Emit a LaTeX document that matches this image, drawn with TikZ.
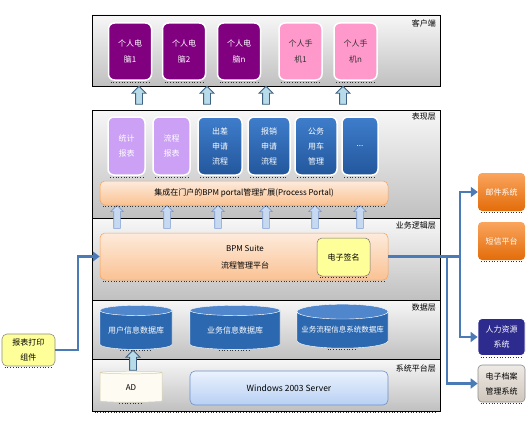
\documentclass[tikz,border=0pt]{standalone}
\usepackage{fontspec}
\setmainfont{Noto Sans CJK SC}
\usetikzlibrary{shapes.geometric,shapes.arrows,arrows.meta}
\definecolor{layT}{HTML}{F7F7F7}
\definecolor{layB}{HTML}{C0C0C0}
\definecolor{purp}{HTML}{800080}
\definecolor{pinkc}{HTML}{FF99CC}
\definecolor{lav}{HTML}{CBA0F5}
\definecolor{blueT}{HTML}{3F7DCB}
\definecolor{blueB}{HTML}{22579C}
\definecolor{orgT}{HTML}{FDEBDC}
\definecolor{orgB}{HTML}{FAC293}
\definecolor{orgD}{HTML}{F5A15A}
\definecolor{yel}{HTML}{FFFF99}
\definecolor{cylE}{HTML}{4F86CC}
\definecolor{cylBd}{HTML}{2C68B0}
\definecolor{adF}{HTML}{FDFBF2}
\definecolor{adD}{HTML}{D6CFAE}
\definecolor{winT}{HTML}{EAF2FD}
\definecolor{winB}{HTML}{B8D0F3}
\definecolor{winD}{HTML}{6F8FC8}
\definecolor{exT}{HTML}{FAA55E}
\definecolor{exB}{HTML}{E36C09}
\definecolor{hrc}{HTML}{2E2B8F}
\definecolor{arT}{HTML}{EEEAE5}
\definecolor{arB}{HTML}{CFC6BC}
\definecolor{conn}{HTML}{4A7BB7}
\definecolor{upF}{HTML}{B8DBE9}
\definecolor{upD}{HTML}{3D6182}
\definecolor{up2F}{HTML}{C6D9F1}
\definecolor{up2D}{HTML}{7B9BD1}
\begin{document}
\begin{tikzpicture}[x=1pt,y=-1pt,
  layer/.style={draw=black, line width=0.7pt, top color=layT, bottom color=layB, minimum width=348, inner sep=0},
  laylabel/.style={font=\fontsize{8}{9}\selectfont, anchor=north east, inner sep=0},
  pcbox/.style={draw=white, line width=1.5pt, rounded corners=6pt, minimum height=57, minimum width=43, align=center, inner sep=0, font=\fontsize{8}{16}\selectfont},
  pbox/.style={draw=white, line width=1.5pt, rounded corners=6pt, minimum height=58, align=center, inner sep=0, font=\fontsize{8}{15}\selectfont, text=white},
  orgbar/.style={draw=orgD, line width=0.5pt, rounded corners=5pt, top color=orgT, bottom color=orgB, inner sep=0},
  upA/.style={single arrow, shape border rotate=90, draw=upD, fill=upF, line width=0.9pt, minimum height=18, inner sep=3pt, single arrow head extend=3.5pt},
  upB/.style={single arrow, shape border rotate=90, draw=up2D, fill=up2F, line width=0.6pt, minimum height=23, inner sep=3pt, single arrow head extend=3pt},
  dbcyl/.style={cylinder, shape border rotate=90, aspect=0.18, draw=white, line width=0.4pt, cylinder uses custom fill, cylinder body fill=cylBd, cylinder end fill=cylE, text=white, inner sep=0, font=\fontsize{8}{9}\selectfont},
  extbox/.style={rounded corners=4pt, minimum width=47, align=center, inner sep=0, font=\fontsize{8}{15}\selectfont},
  cline/.style={draw=conn, line width=2.6pt},
  ctip/.style={-{Triangle[length=7pt,width=10pt]}},
  shd/.style={dotted, line width=0.7pt, black!80}
]
\useasboundingbox (0,0) rectangle (527,420);

% layers
\node[layer, minimum height=71] (L1) at (266,50.5) {};
\node[layer, minimum height=108] (L2) at (266,164) {};
\node[layer, minimum height=82] (L3) at (266,259) {};
\node[layer, minimum height=59] (L4) at (266,329.5) {};
\node[layer, minimum height=52] (L5) at (266,385) {};
\node[laylabel] (t1) at (436,20) {客户端};
\node[laylabel] (t2) at (436,113) {表现层};
\node[laylabel] (t3) at (436,222) {业务逻辑层};
\node[laylabel] (t4) at (436,304) {数据层};
\node[laylabel] (t5) at (436,365) {系统平台层};

% client nodes
\node[pcbox, fill=purp, text=white] (c1) at (130,51.5) {个人电\\脑1};
\node[pcbox, fill=purp, text=white] (c2) at (184,51.5) {个人电\\脑2};
\node[pcbox, fill=purp, text=white] (c3) at (239,51.5) {个人电\\脑n};
\node[pcbox, fill=pinkc, text=black!80] (c4) at (300.5,51.5) {个人手\\机1};
\node[pcbox, fill=pinkc, text=black!80] (c5) at (355.5,51.5) {个人手\\机n};

% arrows client <- presentation
\node[upA] (a1) at (139,97) {};
\node[upA] (a2) at (207,97) {};
\node[upA] (a3) at (266,97) {};
\node[upA] (a4) at (343,97) {};

% presentation nodes
\node[pbox, fill=lav, minimum width=37] (p1) at (126.5,146) {统计\\报表};
\node[pbox, fill=lav, minimum width=37] (p2) at (171.5,146) {流程\\报表};
\node[pbox, top color=blueT, bottom color=blueB, minimum width=44] (p3) at (220,146) {出差\\申请\\流程};
\node[pbox, top color=blueT, bottom color=blueB, minimum width=42] (p4) at (269,146) {报销\\申请\\流程};
\node[pbox, top color=blueT, bottom color=blueB, minimum width=42] (p5) at (316,146) {公务\\用车\\管理};
\node[pbox, top color=blueT, bottom color=blueB, minimum width=36] (p6) at (360,146) {...};

\node[orgbar, minimum width=288, minimum height=24, font=\fontsize{8}{9}\selectfont] (portal) at (244,193) {集成在门户的BPM portal管理扩展(Process Portal)};

% arrows portal <- bpm
\node[upB] (b1) at (117,218.5) {};
\node[upB] (b2) at (167,218.5) {};
\node[upB] (b3) at (218,218.5) {};
\node[upB] (b4) at (266,218.5) {};
\node[upB] (b5) at (315,218.5) {};
\node[upB] (b6) at (360,218.5) {};

% business
\node[orgbar, minimum width=288, minimum height=47] (bpm) at (244,256.5) {};
\node[font=\fontsize{8}{9}\selectfont, inner sep=0] (bpmt1) at (245,248) {BPM Suite};
\node[font=\fontsize{8}{9}\selectfont, inner sep=0] (bpmt2) at (245,265) {流程管理平台};
\node[draw=black!55, line width=0.5pt, fill=yel, rounded corners=5pt, minimum width=53, minimum height=38, inner sep=0, font=\fontsize{8}{9}\selectfont] (sig) at (343.5,257) {电子签名};

% data
\node[dbcyl, minimum width=72, minimum height=44] (d1) at (136,330) {用户信息数据库};
\node[dbcyl, minimum width=90, minimum height=44] (d2) at (235,330) {业务信息数据库};
\node[dbcyl, minimum width=91, minimum height=44, font=\fontsize{7.5}{9}\selectfont] (d3) at (342.5,330) {业务流程信息系统数据库};

% platform
\node[cylinder, shape border rotate=90, aspect=0.25, draw=adD, line width=0.5pt, fill=adF, minimum width=62, minimum height=31, inner sep=0, font=\fontsize{8}{9}\selectfont] (ad) at (131,387.5) {AD};
\node[upA, minimum height=20] (a5) at (133,362) {};
\node[draw=winD, line width=0.6pt, rounded corners=5pt, top color=winT, bottom color=winB, minimum width=198, minimum height=34, inner sep=0, font=\fontsize{8.5}{9}\selectfont] (win) at (289,388) {Windows 2003 Server};

% external systems
\node[extbox, top color=exT, bottom color=exB, text=white, minimum height=38] (r1) at (501.5,192) {邮件系统};
\node[extbox, top color=exT, bottom color=exB, text=white, minimum height=38] (r2) at (501.5,241) {短信平台};
\node[extbox, fill=hrc, draw=white, line width=0.8pt, text=white, minimum height=37] (r3) at (501.5,337) {人力资源\\系统};
\node[extbox, top color=arT, bottom color=arB, draw=black!45, line width=0.6pt, text=black, minimum height=37] (r4) at (501.5,383.5) {电子档案\\管理系统};
\node[draw=black!45, line width=0.6pt, fill=yel, rounded corners=5pt, minimum width=53, minimum height=32, align=center, inner sep=0, font=\fontsize{8}{15}\selectfont] (rep) at (28.5,350) {报表打印\\组件};

% dotted shadows
\foreach \n in {c1,c2,c3,c4,c5,p1,p2,p3,p4,p5,p6,portal,bpm,sig,r1,r2,r3,r4,rep,ad,d1,d2,d3,L5}
  \draw[shd] ([shift={(3pt,-1.2pt)}]\n.south west) -- ([shift={(-3pt,-1.2pt)}]\n.south east);

% connectors
\coordinate (j1) at (460,256.5);
\coordinate (j2) at (447,256.5);
\coordinate (lk) at (78,350);
\draw[cline] (bpm.east) -- (j1);
\draw[cline, ctip] (j1) |- (r1.west);
\draw[cline, ctip] (j1) |- (r3.west);
\draw[cline, ctip] (j2) |- (r4.west);
\draw[cline, ctip] (rep.east) -- (lk) |- (bpm.west);
\end{tikzpicture}
\end{document}
